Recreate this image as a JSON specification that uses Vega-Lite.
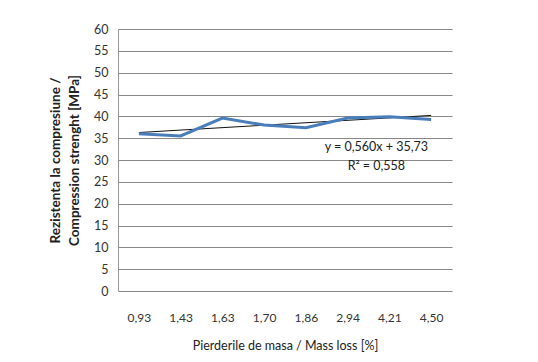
{
  "$schema": "https://vega.github.io/schema/vega-lite/v6.json",
  "width": 334,
  "height": 262,
  "autosize": {"type": "none"},
  "padding": {"left": 118, "top": 29, "right": 86, "bottom": 71},
  "background": "white",
  "config": {
    "view": {"stroke": null},
    "font": "Lato",
    "axis": {"labelFont": "Lato", "titleFont": "Lato", "labelColor": "#333", "titleColor": "#222"}
  },
  "datasets": {
    "strength": [
      {"loss": "0,93", "value": 36.0},
      {"loss": "1,43", "value": 35.5},
      {"loss": "1,63", "value": 39.6},
      {"loss": "1,70", "value": 38.0},
      {"loss": "1,86", "value": 37.4},
      {"loss": "2,94", "value": 39.6},
      {"loss": "4,21", "value": 39.9},
      {"loss": "4,50", "value": 39.3}
    ],
    "trend": [
      {"loss": "0,93", "value": 36.29},
      {"loss": "4,50", "value": 40.21}
    ],
    "label": [
      {"loss": "4,21", "value": 33.0, "text": "y = 0,560x + 35,73"},
      {"loss": "4,21", "value": 28.6, "text": "R² = 0,558"}
    ]
  },
  "encoding": {
    "x": {
      "field": "loss", "type": "ordinal",
      "scale": {"type": "point", "padding": 0.5},
      "axis": {
        "title": "Pierderile de masa / Mass loss [%]",
        "labelAngle": 0, "ticks": false, "domain": false,
        "labelPadding": 21, "labelFontSize": 12, "titleFontSize": 12.5,
        "titleFontWeight": "normal", "titlePadding": 16
      }
    },
    "y": {
      "field": "value", "type": "quantitative",
      "scale": {"domain": [0, 60], "nice": false},
      "axis": {
        "title": ["Rezistenta la compresiune /", "Compression strenght [MPa]"],
        "values": [0, 5, 10, 15, 20, 25, 30, 35, 40, 45, 50, 55, 60],
        "ticks": false, "domain": true, "domainColor": "#999",
        "grid": true, "gridColor": "#888", "gridWidth": 1,
        "labelPadding": 10, "labelFontSize": 12.5,
        "titleFontSize": 13.5, "titleFontWeight": "bold", "titlePadding": 12,
        "titleLineHeight": 19
      }
    }
  },
  "layer": [
    {
      "data": {"name": "trend"},
      "mark": {"type": "line", "color": "#111", "strokeWidth": 1}
    },
    {
      "data": {"name": "strength"},
      "mark": {"type": "line", "color": "#4a7ebb", "strokeWidth": 3}
    },
    {
      "data": {"name": "label"},
      "mark": {"type": "text", "dx": -13, "fontSize": 12.5, "color": "#222", "align": "center", "baseline": "middle"},
      "encoding": {"text": {"field": "text"}}
    }
  ]
}
